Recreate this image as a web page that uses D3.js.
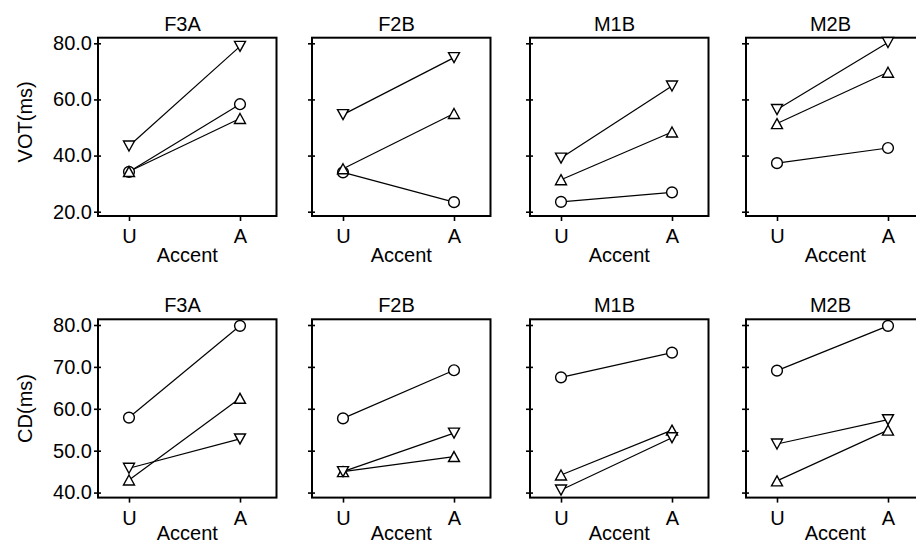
<!DOCTYPE html>
<html>
<head>
<meta charset="utf-8">
<script src="https://cdn.jsdelivr.net/npm/d3@7/dist/d3.min.js"></script>
<style>
  html, body { margin: 0; padding: 0; background: #fff; }
  svg { display: block; font-family: "Liberation Sans", Arial, sans-serif; }
</style>
</head>
<body>
<svg id="chart" width="916" height="545"></svg>
<script>
// Speakers (panels) and accent conditions (x categories)
const speakers = ["F3A", "F2B", "M1B", "M2B"];
const accents = ["U", "A"];

// VOT (ms): one [U, A] pair per speaker, per marker series
const votCircle = [[34.2, 58.3], [34.0, 23.4], [23.5, 26.9], [37.3, 42.7]];
const votUp     = [[34.3, 53.2], [35.3, 55.0], [31.4, 48.4], [51.4, 69.7]];
const votDown   = [[43.4, 78.9], [54.6, 74.9], [39.1, 64.8], [56.4, 80.3]];

// CD (ms)
const cdCircle = [[57.9, 79.8], [57.7, 69.2], [67.5, 73.4], [69.1, 79.8]];
const cdUp     = [[43.0, 62.5], [45.0, 48.6], [44.2, 54.9], [42.8, 54.9]];
const cdDown   = [[45.8, 52.8], [45.0, 54.2], [40.6, 53.1], [51.6, 57.4]];

// Axis ticks
const votTicks = [20, 40, 60, 80];
const cdTicks = [40, 50, 60, 70, 80];

const rows = [
  { label: "VOT(ms)", domain: [18.47, 82.0], ticks: votTicks, top: 37.7, accentDy: 45.7, labelShift: -5,
    series: [{ shape: "circle", values: votCircle }, { shape: "up", values: votUp }, { shape: "down", values: votDown }] },
  { label: "CD(ms)", domain: [38.8, 81.36], ticks: cdTicks, top: 319.3, accentDy: 42.8, labelShift: 0,
    series: [{ shape: "circle", values: cdCircle }, { shape: "up", values: cdUp }, { shape: "down", values: cdDown }] }
];

const panelLefts = [98, 312, 530, 746];
const panelW = 178.5, panelH = 178.3;

const svg = d3.select("#chart");

// Marker shapes, centred on the point's bounding box
function markerPath(shape) {
  const w = 11, h = 10;
  if (shape === "up") return `M0,${-h/2}L${w/2},${h/2}L${-w/2},${h/2}Z`;
  return `M0,${h/2}L${w/2},${-h/2}L${-w/2},${-h/2}Z`;
}

rows.forEach((row) => {
  speakers.forEach((spk, si) => {
    const left = panelLefts[si];
    const g = svg.append("g");

    const x = d3.scalePoint().domain(accents).range([left + 31, left + 142]);
    const y = d3.scaleLinear().domain(row.domain).range([row.top + panelH, row.top]);

    // Left axis ticks (labels on the first panel only)
    const yAxis = d3.axisLeft(y).tickValues(row.ticks).tickSizeInner(4).tickSizeOuter(0)
      .tickPadding(2).tickFormat(si === 0 ? d3.format(".1f") : () => "");
    const ya = g.append("g").attr("transform", `translate(${left},0)`).call(yAxis);
    ya.select(".domain").remove();
    ya.selectAll(".tick line").attr("x2", -4).attr("x1", 3).attr("stroke", "#000").attr("stroke-width", 1.6);
    ya.selectAll(".tick text").attr("font-size", 20).attr("fill", "#000")
      .attr("font-family", "'Liberation Sans', Arial, sans-serif").attr("x", -6);

    // Bottom axis: U / A
    const xAxis = d3.axisBottom(x).tickSizeInner(5).tickSizeOuter(0).tickPadding(8);
    const xa = g.append("g").attr("transform", `translate(0,${row.top + panelH})`).call(xAxis);
    xa.select(".domain").remove();
    xa.selectAll(".tick line").attr("stroke", "#000").attr("stroke-width", 1.6);
    xa.selectAll(".tick text").attr("font-size", 20).attr("fill", "#000")
      .attr("font-family", "'Liberation Sans', Arial, sans-serif")
      .attr("dy", null).attr("y", 27).attr("dominant-baseline", "alphabetic");

    // Panel frame
    g.append("rect")
      .attr("x", left).attr("y", row.top).attr("width", panelW).attr("height", panelH)
      .attr("fill", "none").attr("stroke", "#000").attr("stroke-width", 2);

    // Speaker title
    g.append("text")
      .attr("x", (x("U") + x("A")) / 2 - 2).attr("y", row.top - 7)
      .attr("text-anchor", "middle").attr("font-size", 20).attr("fill", "#000")
      .text(spk);

    // X axis title
    g.append("text")
      .attr("x", left + panelW / 2).attr("y", row.top + panelH + row.accentDy)
      .attr("text-anchor", "middle").attr("font-size", 20).attr("fill", "#000")
      .text("Accent");

    // Connecting lines
    const line = d3.line().x((d, i) => x(accents[i])).y(d => y(d));
    row.series.forEach(s => {
      g.append("path").attr("d", line(s.values[si]))
        .attr("fill", "none").attr("stroke", "#000").attr("stroke-width", 1.2);
    });

    // Markers (white-filled, drawn over the lines)
    row.series.forEach(s => {
      s.values[si].forEach((v, i) => {
        if (s.shape === "circle") {
          g.append("circle").attr("cx", x(accents[i])).attr("cy", y(v)).attr("r", 5.4)
            .attr("fill", "#fff").attr("stroke", "#000").attr("stroke-width", 1.4);
        } else {
          g.append("path").attr("d", markerPath(s.shape))
            .attr("transform", `translate(${x(accents[i])},${y(v)})`)
            .attr("fill", "#fff").attr("stroke", "#000").attr("stroke-width", 1.4)
            .attr("stroke-linejoin", "miter");
        }
      });
    });
  });

  // Row y-axis title
  const midY = row.top + panelH / 2 + row.labelShift;
  svg.append("text")
    .attr("transform", `translate(31.5,${midY}) rotate(-90)`)
    .attr("text-anchor", "middle").attr("font-size", 20).attr("fill", "#000")
    .text(row.label);
});
</script>
</body>
</html>
